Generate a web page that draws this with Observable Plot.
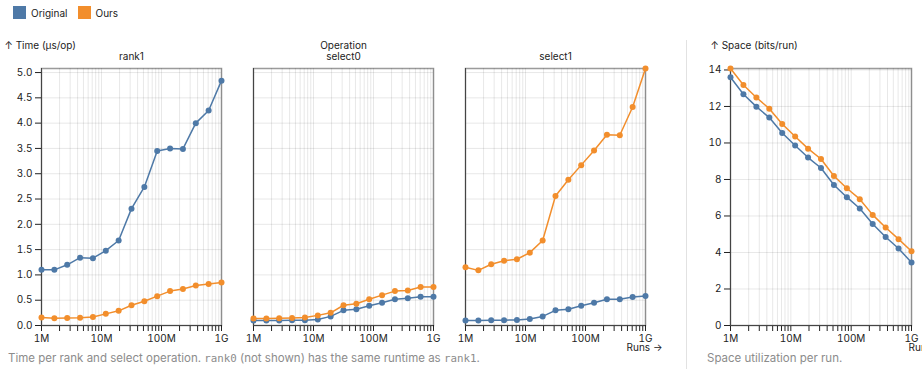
<!DOCTYPE html>
<html><head><meta charset="utf-8">
<script src="https://cdn.jsdelivr.net/npm/d3@7"></script>
<script src="https://cdn.jsdelivr.net/npm/@observablehq/plot@0.6"></script>
<style>
html,body{margin:0;padding:0;background:#fff;}
body{width:922px;height:369px;position:relative;overflow:hidden;font-family:Inter,"Liberation Sans",sans-serif;color:#222;}
#legend{position:absolute;left:13px;top:-4px;}
#left{position:absolute;left:0;top:38px;}
#right{position:absolute;left:686px;top:40px;height:329px;border-left:1px solid #e2e2e2;padding-left:20px;}
#rightplot{position:absolute;left:707px;top:38px;width:240px;}
svg{max-width:none !important;}
.caption{position:absolute;top:351px;color:#8c8c8c;font-size:11.5px;white-space:nowrap;}
.caption code{font-family:"DejaVu Sans Mono","Liberation Mono",monospace;font-size:10.8px;}
</style>
</head><body>
<div id="legend"></div>
<div id="left"></div>
<div id="right"></div>
<div id="rightplot"></div>
<div class="caption" style="left:8px">Time per rank and select operation. <code>rank0</code> (not shown) has the same runtime as <code>rank1</code>.</div>
<div class="caption" style="left:707px">Space utilization per run.</div>
<script>
const series = ["Original", "Ours"];
const colors = ["#4e79a7", "#f28e2c"];
const operations = ["rank1", "select0", "select1"];
const runs = [1e6, 1.638e6, 2.683e6, 4.394e6, 7.197e6, 1.179e7, 1.931e7, 3.162e7, 5.179e7, 8.483e7, 1.389e8, 2.276e8, 3.728e8, 6.105e8, 1e9];

const rank1Original  = [1.10, 1.10, 1.20, 1.34, 1.33, 1.48, 1.68, 2.31, 2.74, 3.45, 3.50, 3.49, 4.00, 4.25, 4.84];
const rank1Ours      = [0.16, 0.145, 0.15, 0.155, 0.17, 0.23, 0.29, 0.40, 0.48, 0.58, 0.68, 0.72, 0.79, 0.82, 0.85];
const select0Original= [0.10, 0.10, 0.10, 0.105, 0.105, 0.12, 0.18, 0.30, 0.32, 0.39, 0.45, 0.52, 0.54, 0.57, 0.57];
const select0Ours    = [0.14, 0.14, 0.144, 0.15, 0.16, 0.20, 0.25, 0.40, 0.43, 0.52, 0.60, 0.68, 0.69, 0.76, 0.76];
const select1Original= [0.10, 0.10, 0.105, 0.105, 0.11, 0.13, 0.18, 0.30, 0.32, 0.39, 0.45, 0.52, 0.52, 0.565, 0.585];
const select1Ours    = [1.15, 1.09, 1.21, 1.28, 1.31, 1.44, 1.68, 2.56, 2.88, 3.17, 3.46, 3.77, 3.76, 4.32, 5.08];
const spaceOriginal  = [13.60, 12.67, 11.99, 11.39, 10.55, 9.86, 9.20, 8.63, 7.70, 7.03, 6.41, 5.56, 4.85, 4.22, 3.45];
const spaceOurs      = [14.08, 13.18, 12.49, 11.88, 11.04, 10.35, 9.69, 9.12, 8.19, 7.52, 6.92, 6.06, 5.37, 4.73, 4.07];

const xTicks = [1e6,2e6,3e6,4e6,5e6,6e6,7e6,8e6,9e6,1e7,2e7,3e7,4e7,5e7,6e7,7e7,8e7,9e7,1e8,2e8,3e8,4e8,5e8,6e8,7e8,8e8,9e8,1e9];
const xLabeled = [1e6, 1e7, 1e8, 1e9];
const timeTicks = [0,0.5,1,1.5,2,2.5,3,3.5,4,4.5,5];
const spaceTicks = [0,2,4,6,8,10,12,14];

const timeSeries = {
  rank1: [rank1Original, rank1Ours],
  select0: [select0Original, select0Ours],
  select1: [select1Original, select1Ours]
};
const timeData = [];
for (const op of operations) {
  timeSeries[op].forEach((vals, si) => vals.forEach((v, i) => timeData.push({op, impl: series[si], runs: runs[i], time: v})));
}
const spaceData = [];
[spaceOriginal, spaceOurs].forEach((vals, si) => vals.forEach((v, i) => spaceData.push({impl: series[si], runs: runs[i], space: v})));

const fmtX = d => xLabeled.includes(d) ? d3.format("~s")(d) : "";
const font = {fontFamily: 'Inter, "Liberation Sans", sans-serif', fontSize: "10px", background: "transparent", color: "#222", maxWidth: "none"};
const colorScale = {domain: series, range: colors};

document.getElementById("legend").append(Plot.legend({color: colorScale, swatchSize: 13, style: {fontFamily: font.fontFamily, fontSize: "10px"}}));

const left = Plot.plot({
  width: 666, height: 315,
  marginLeft: 40, marginRight: 20, marginTop: 30, marginBottom: 28,
  style: font,
  facet: {data: timeData, x: "op", label: "Operation"},
  fx: {domain: operations, paddingInner: 0.15, paddingOuter: 0, label: "Operation"},
  x: {type: "log", domain: [1e6, 1e9], ticks: xTicks, tickFormat: fmtX, label: "Runs →", grid: true},
  y: {label: "↑ Time (µs/op)", grid: true, ticks: timeTicks, tickFormat: ".1f"},
  color: colorScale,
  marks: [
    Plot.frame({stroke: "#222", strokeOpacity: 0.45, strokeWidth: 1.5}),
    Plot.ruleX([1e6], {stroke: "#444"}),
    Plot.ruleY([0], {stroke: "#444"}),
    Plot.line(timeData, {x: "runs", y: "time", stroke: "impl", z: "impl", strokeWidth: 1.5}),
    Plot.dot(timeData, {x: "runs", y: "time", fill: "impl", r: 3})
  ]
});
document.getElementById("left").append(left);

const right = Plot.plot({
  width: 240, height: 315,
  marginLeft: 23, marginRight: 36, marginTop: 30, marginBottom: 28,
  style: font,
  x: {type: "log", domain: [1e6, 1e9], ticks: xTicks, tickFormat: fmtX, label: "Runs →", grid: true},
  y: {label: "↑ Space (bits/run)", grid: true, ticks: spaceTicks},
  color: colorScale,
  marks: [
    Plot.frame({stroke: "#222", strokeOpacity: 0.45, strokeWidth: 1.5}),
    Plot.ruleX([1e6], {stroke: "#444"}),
    Plot.ruleY([0], {stroke: "#444"}),
    Plot.line(spaceData, {x: "runs", y: "space", stroke: "impl", z: "impl", strokeWidth: 1.5}),
    Plot.dot(spaceData, {x: "runs", y: "space", fill: "impl", r: 3})
  ]
});
document.getElementById("rightplot").append(right);
</script>
</body></html>
